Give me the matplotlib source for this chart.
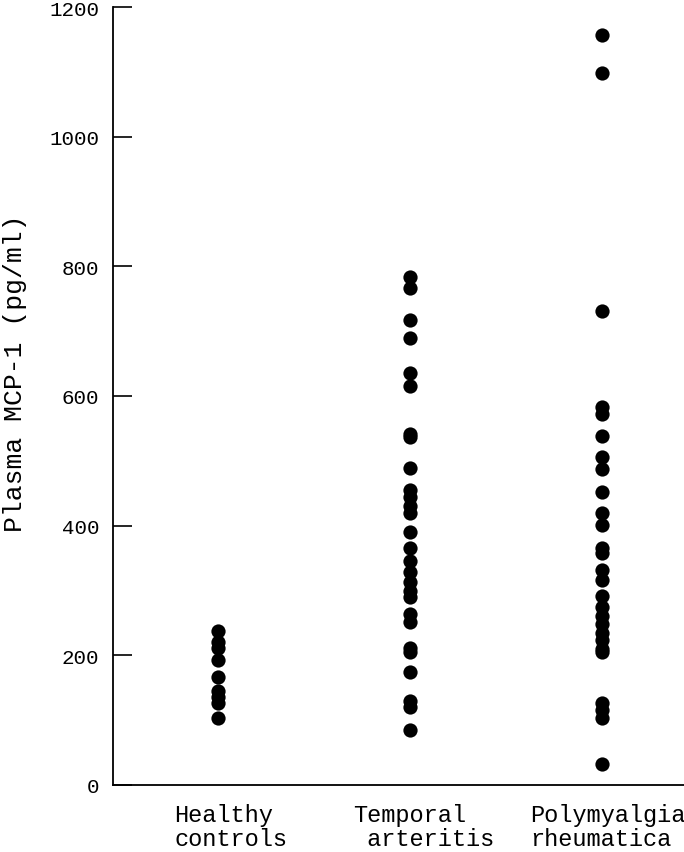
import matplotlib
matplotlib.use("Agg")
import matplotlib.pyplot as plt

categories = ["Healthy\ncontrols", "Temporal\n arteritis", "Polymyalgia\nrheumatica"]
healthy = [238, 220, 211, 193, 167, 145, 135, 126, 104]
temporal = [784, 766, 717, 689, 635, 616, 541, 536, 489, 455, 444, 431, 420, 391,
            365, 346, 329, 313, 300, 290, 264, 252, 212, 205, 175, 130, 120, 85]
polymyalgia = [1157, 1098, 731, 583, 572, 539, 506, 487, 452, 419, 401, 366, 358,
               332, 316, 292, 274, 261, 248, 235, 224, 210, 205, 127, 115, 104, 32]
yticks = [0, 200, 400, 600, 800, 1000, 1200]
groups = [healthy, temporal, polymyalgia]

plt.rcParams['font.family'] = ['Liberation Mono', 'DejaVu Sans Mono']

fig = plt.figure(figsize=(6.84, 8.53), dpi=100)
ax = fig.add_axes([113/684, 67/853, 595/684, 778/853])

for i, vals in enumerate(groups):
    ax.scatter([i + 1] * len(vals), vals, s=105, color='black', zorder=3, linewidths=0)

ax.set_ylim(0, 1200)
ax.set_xlim(0.453, 3.55)
ax.set_yticks(yticks)
ax.set_yticklabels([str(t) for t in yticks], fontsize=15)
ax.tick_params(axis='y', direction='in', length=14, width=1.2, pad=10)
ax.set_xticks([1, 2, 3])
ax.set_xticklabels([])
ax.tick_params(axis='x', length=0)
label_dx = [-44, -57, -72]
for i, lab in enumerate(categories):
    ax.annotate(lab, xy=(i + 1, 0), xycoords=('data', 'axes fraction'),
                xytext=(label_dx[i], -18), textcoords='offset pixels',
                ha='left', va='top', fontsize=17, linespacing=1.05,
                multialignment='left', annotation_clip=False)
for sp in ['top', 'right']:
    ax.spines[sp].set_visible(False)
for sp in ['left', 'bottom']:
    ax.spines[sp].set_linewidth(1.3)
ax.set_ylabel("Plasma MCP-1 (pg/ml)", fontsize=19)
ax.yaxis.set_label_coords(-86/595, 0.5 + (786 - 373 - 389) / 778)

fig.savefig("out.png", dpi=100)
